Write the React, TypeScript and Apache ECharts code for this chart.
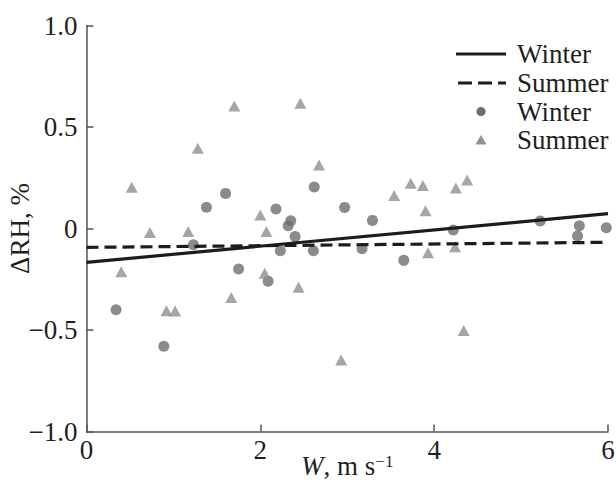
import React, { useEffect, useRef } from "react";
import * as echarts from "echarts";

const winterW = [0.34, 0.89, 1.23, 1.38, 1.6, 1.75, 2.09, 2.18, 2.23, 2.32, 2.35, 2.4, 2.61, 2.62, 2.97, 3.17, 3.29, 3.65, 4.22, 5.22, 5.65, 5.67, 5.98];
const winterRH = [-0.4, -0.58, -0.08, 0.105, 0.173, -0.2, -0.26, 0.096, -0.11, 0.014, 0.038, -0.04, -0.11, 0.204, 0.104, -0.1, 0.04, -0.157, -0.007, 0.037, -0.037, 0.014, 0.004];

const summerW = [0.4, 0.52, 0.73, 0.92, 1.02, 1.17, 1.28, 1.665, 1.7, 2.0, 2.05, 2.07, 2.44, 2.46, 2.675, 2.93, 3.54, 3.73, 3.87, 3.9, 3.93, 4.24, 4.25, 4.34, 4.38];
const summerRH = [-0.213, 0.203, -0.02, -0.405, -0.406, -0.015, 0.395, -0.34, 0.603, 0.066, -0.22, -0.015, -0.29, 0.617, 0.313, -0.648, 0.162, 0.223, 0.212, 0.087, -0.12, -0.09, 0.2, -0.503, 0.239];

const fitW = [0, 6];
const winterFitRH = [-0.167, 0.073];
const summerFitRH = [-0.093, -0.068];

const xTicks = [0, 2, 4, 6];
const yTicks = [-1, -0.5, 0, 0.5, 1];

const legendLabels = ["Winter", "Summer", "Winter", "Summer"];

const FONT = "Liberation Serif";
const FS = 27;
const TEXT = "#1f1f1f";
const AXIS = "#555555";
const LINE = "#1c1c1c";
const WINTER_PT = "#6d6e70";
const SUMMER_PT = "#8f9093";
const DASH = [12, 6];

const zip = (a: number[], b: number[]) => a.map((v, i) => [v, b[i]]);

export default function App() {
  const ref = useRef<HTMLDivElement>(null);
  useEffect(() => {
    if (!ref.current) return;
    const chart = echarts.init(ref.current, undefined, { renderer: "svg" });

    // legend drawn as graphic elements
    const lx1 = 456, lx2 = 506, tx = 517, cx = 481;
    const rowY = [54, 83, 111.5, 140];
    const legend: any[] = [
      { type: "line", shape: { x1: lx1, y1: rowY[0], x2: lx2, y2: rowY[0] }, style: { stroke: LINE, lineWidth: 3.2 } },
      { type: "line", shape: { x1: lx1 + 2, y1: rowY[1], x2: lx2, y2: rowY[1] }, style: { stroke: LINE, lineWidth: 3.2, lineDash: [14, 6] } },
      { type: "circle", shape: { cx, cy: rowY[2], r: 4.6 }, style: { fill: WINTER_PT } },
      {
        type: "polygon",
        shape: { points: [[cx, rowY[3] - 5], [cx + 5.5, rowY[3] + 4.5], [cx - 5.5, rowY[3] + 4.5]] },
        style: { fill: SUMMER_PT },
      },
      ...legendLabels.map((t, i) => ({
        type: "text",
        style: {
          text: t,
          x: tx,
          y: rowY[i],
          fill: TEXT,
          font: `${FS}px "${FONT}"`,
          align: "left",
          verticalAlign: "middle",
        },
      })),
    ];

    chart.setOption({
      animation: false,
      backgroundColor: "#ffffff",
      grid: { left: 86.5, right: 8, top: 25.5, bottom: 48.5, containLabel: false, outerBoundsMode: "none" },
      graphic: legend,
      xAxis: {
        type: "value",
        min: xTicks[0],
        max: xTicks[xTicks.length - 1],
        interval: 2,
        splitLine: { show: false },
        axisLine: { onZero: false, lineStyle: { color: AXIS, width: 1.5 } },
        axisTick: { inside: true, length: 7, lineStyle: { color: AXIS, width: 1.5 } },
        axisLabel: { fontFamily: FONT, fontSize: FS, color: TEXT, margin: 5 },
        name: "{i|W}, m s{sup|−1}",
        nameLocation: "middle",
        nameGap: 21,
        nameMoveOverlap: false,
        nameTextStyle: {
          fontFamily: FONT,
          fontSize: FS,
          lineHeight: 26,
          color: TEXT,
          rich: {
            i: { fontFamily: FONT, fontSize: FS, fontStyle: "italic", color: TEXT, lineHeight: 26 },
            sup: { fontFamily: FONT, fontSize: 17, color: TEXT, verticalAlign: "top", lineHeight: 16, padding: [0, 0, 8, 0] },
          },
        },
      },
      yAxis: {
        type: "value",
        min: yTicks[0],
        max: yTicks[yTicks.length - 1],
        interval: 0.5,
        splitLine: { show: false },
        axisLine: { show: true, onZero: false, lineStyle: { color: AXIS, width: 1.5 } },
        axisTick: { show: true, inside: true, length: 7, lineStyle: { color: AXIS, width: 1.5 } },
        axisLabel: {
          fontFamily: FONT,
          fontSize: FS,
          color: TEXT,
          margin: 9,
          formatter: (v: number) => (v === 0 ? "0" : v.toFixed(1).replace("-", "−")),
        },
        name: "ΔRH, %",
        nameLocation: "middle",
        nameGap: 53,
        nameMoveOverlap: false,
        nameTextStyle: { fontFamily: FONT, fontSize: FS, color: TEXT },
      },
      series: [
        {
          name: "Winter",
          type: "scatter",
          symbol: "circle",
          symbolSize: 11,
          itemStyle: { color: WINTER_PT },
          data: zip(winterW, winterRH),
          z: 2,
        },
        {
          name: "Summer",
          type: "scatter",
          symbol: "triangle",
          symbolSize: [12, 11],
          itemStyle: { color: SUMMER_PT },
          data: zip(summerW, summerRH),
          z: 2,
        },
        {
          name: "Winter fit",
          type: "line",
          symbol: "none",
          lineStyle: { color: LINE, width: 3.2, type: "solid" },
          data: zip(fitW, winterFitRH),
          z: 3,
        },
        {
          name: "Summer fit",
          type: "line",
          symbol: "none",
          lineStyle: { color: LINE, width: 3.2, type: DASH },
          data: zip(fitW, summerFitRH),
          z: 3,
        },
      ],
    });
    return () => chart.dispose();
  }, []);
  return (
    <div
      ref={ref}
      style={{ position: "fixed", left: 0, top: 0, width: 616, height: 480, background: "#fff" }}
    />
  );
}
